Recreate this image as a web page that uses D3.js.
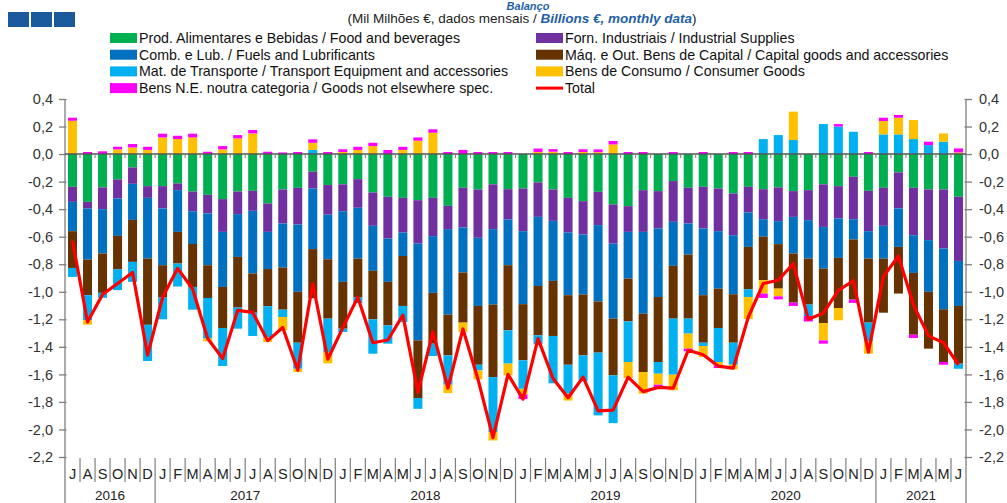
<!DOCTYPE html>
<html><head><meta charset="utf-8">
<script src="https://cdn.jsdelivr.net/npm/d3@7"></script>
<style>body{margin:0;background:#fff;} svg{display:block;font-family:"Liberation Sans",Arial,sans-serif;}</style>
</head><body><svg id="c" width="1007" height="503"></svg>
<script>
// ---- data ----
const months = ["J","A","S","O","N","D",
  "J","F","M","A","M","J","J","A","S","O","N","D",
  "J","F","M","A","M","J","J","A","S","O","N","D",
  "J","F","M","A","M","J","J","A","S","O","N","D",
  "J","F","M","A","M","J","J","A","S","O","N","D",
  "J","F","M","A","M","J"];
const years = ["2016","2017","2018","2019","2020","2021"];
const yearMonths = [6,12,12,12,12,6];
const yTicks = [0.4,0.2,0,-0.2,-0.4,-0.6,-0.8,-1.0,-1.2,-1.4,-1.6,-1.8,-2.0,-2.2];

const food = [-0.238,-0.347,-0.242,-0.184,-0.097,-0.233,-0.233,-0.213,-0.272,-0.296,-0.327,-0.272,-0.267,-0.359,-0.257,
 -0.245,-0.128,-0.225,-0.22,-0.182,-0.279,-0.31,-0.318,-0.335,-0.318,-0.376,-0.245,-0.257,-0.22,-0.255,
 -0.25,-0.206,-0.257,-0.318,-0.342,-0.274,-0.366,-0.378,-0.262,-0.269,-0.196,-0.245,-0.238,-0.25,-0.286,
 -0.238,-0.255,-0.242,-0.269,-0.262,-0.22,-0.233,-0.165,-0.267,-0.245,-0.133,-0.245,-0.257,-0.257,-0.31];
const industrial = [-0.109,-0.048,-0.158,-0.138,-0.119,-0.085,-0.162,-0.049,-0.143,-0.135,-0.238,-0.164,-0.145,-0.206,-0.247,
 -0.267,-0.122,-0.215,-0.195,-0.208,-0.242,-0.303,-0.252,-0.315,-0.278,-0.169,-0.288,-0.351,-0.325,-0.22,
 -0.31,-0.25,-0.228,-0.252,-0.242,-0.242,-0.284,-0.187,-0.303,-0.271,-0.296,-0.259,-0.302,-0.31,-0.303,
 -0.186,-0.218,-0.245,-0.187,-0.218,-0.309,-0.235,-0.308,-0.293,-0.276,-0.262,-0.344,-0.368,-0.429,-0.466];
const fuels = [-0.213,-0.371,-0.322,-0.272,-0.262,-0.441,-0.412,-0.303,-0.238,-0.376,-0.4,-0.311,-0.455,-0.27,-0.32,
 -0.488,-0.44,-0.324,-0.513,-0.369,-0.327,-0.315,-0.17,-0.703,-0.412,-0.621,-0.327,-0.495,-0.548,-0.332,
 -0.53,-0.502,-0.436,-0.455,-0.436,-0.554,-0.545,-0.339,-0.594,-0.498,-0.32,-0.226,-0.485,-0.417,-0.429,
 -0.25,-0.127,-0.167,-0.266,-0.279,-0.303,-0.286,-0.147,-0.199,-0.238,-0.279,-0.274,-0.375,-0.441,-0.327];
const capital = [-0.267,-0.259,-0.286,-0.244,-0.305,-0.481,-0.235,-0.23,-0.312,-0.238,-0.298,-0.368,-0.285,-0.27,-0.306,
 -0.37,-0.357,-0.431,-0.34,-0.283,-0.352,-0.316,-0.363,-0.419,-0.369,-0.296,-0.364,-0.427,-0.527,-0.473,
 -0.408,-0.358,-0.4,-0.505,-0.442,-0.372,-0.412,-0.311,-0.424,-0.472,-0.383,-0.465,-0.345,-0.286,-0.352,
 -0.308,-0.316,-0.323,-0.357,-0.334,-0.395,-0.364,-0.437,-0.465,-0.393,-0.339,-0.449,-0.413,-0.383,-0.419];
const transport = [-0.065,-0.182,-0.036,-0.15,-0.145,-0.263,-0.158,-0.167,-0.165,-0.295,-0.276,-0.153,-0.169,-0.228,-0.053,
 -0.189,0.03,-0.243,-0.024,-0.04,-0.25,-0.133,-0.117,-0.078,-0.09,-0.213,0,-0.041,-0.4,-0.242,
 -0.207,-0.064,-0.344,-0.21,-0.188,-0.456,-0.347,-0.295,0,-0.085,-0.407,-0.109,-0.024,-0.247,-0.16,
 -0.056,0.109,0.138,0.102,-0.083,0.218,0.2,0.162,-0.136,0.143,0.143,0.109,0.065,0.09,-0.037];
const consumer = [0.242,-0.032,0,0.034,0.048,0.03,0.121,0.109,0.121,-0.02,0.034,0.114,0.15,-0.032,-0.097,
 -0.024,0.052,-0.082,0.015,0.03,0.058,0,0.03,0.097,0.155,-0.061,-0.068,-0.065,-0.06,-0.085,
 -0.04,0.015,0.017,-0.05,0.015,0.014,0.07,-0.117,-0.157,-0.08,-0.114,-0.109,-0.08,-0.025,-0.034,
 -0.16,-0.097,-0.056,0.206,0,-0.126,-0.089,0,-0.09,0.097,0.121,0.138,0,0.06,0.012];
const notElsewhere = [0.022,0.015,0.02,0.019,0.025,0.023,0.027,0.024,0.027,0.017,0.024,0.024,0.025,0.017,0.012,
 0.015,0.025,0.015,0.02,0.023,0.024,0.03,0.023,0.024,0.025,0.015,0.03,0.015,0.015,0.015,
 -0.035,0.025,0.019,0.015,0.02,0.02,0.025,0.015,0.015,-0.02,0.015,-0.019,0.015,-0.019,0.015,
 0.015,-0.032,-0.022,-0.024,-0.04,-0.024,0.018,-0.024,0.015,0.024,0.02,-0.024,0.025,-0.02,0.029];
const total = [-0.63,-1.22,-1.02,-0.94,-0.86,-1.46,-1.04,-0.83,-0.98,-1.34,-1.485,-1.135,-1.15,-1.355,-1.26,
 -1.57,-0.94,-1.49,-1.26,-1.04,-1.37,-1.35,-1.17,-1.73,-1.29,-1.70,-1.27,-1.635,-2.06,-1.60,
 -1.78,-1.34,-1.63,-1.77,-1.62,-1.865,-1.86,-1.62,-1.725,-1.695,-1.70,-1.425,-1.457,-1.54,-1.555,
 -1.185,-0.94,-0.916,-0.795,-1.2,-1.155,-0.99,-0.92,-1.438,-0.89,-0.74,-1.095,-1.32,-1.37,-1.53];

const seriesNames = ["Prod. Alimentares e Bebidas / Food and beverages",
 "Forn. Industriais / Industrial Supplies",
 "Comb. e Lub. /  Fuels and Lubrificants",
 "Máq. e Out. Bens de Capital / Capital goods and accessories",
 "Mat. de Transporte / Transport Equipment and accessories",
 "Bens de Consumo / Consumer Goods",
 "Bens N.E. noutra categoria / Goods not elsewhere spec."];
const seriesColors = ["#00B050","#7030A0","#0070C0","#663300","#00B0F0","#FFC000","#FF00FF"];
const totalName = "Total";
const totalColor = "#FF0000";

// ---- build ----
const seriesValues = [food, industrial, fuels, capital, transport, consumer, notElsewhere];
const keys = seriesNames.map((_, i) => "s" + i);
const rows = months.map((m, i) => {
  const r = {i};
  keys.forEach((k, j) => r[k] = seriesValues[j][i]);
  return r;
});

const svg = d3.select("#c");
const L = 65, R = 966, T = 99, B = 457;
const x = d3.scaleBand().domain(d3.range(months.length)).range([L, R]).paddingInner(0.4).paddingOuter(0.2);
const y = d3.scaleLinear().domain([-2.2, 0.4]).range([B, T]);

// title & header
svg.append("text").attr("x", 528).attr("y", 9.5).attr("text-anchor", "middle")
  .attr("font-size", 11).attr("font-weight", "bold").attr("font-style", "italic").attr("fill", "#1F5FA8").text("Balanço");
[8, 31, 54].forEach(px => svg.append("rect").attr("x", px).attr("y", 12).attr("width", 21).attr("height", 15).attr("fill", "#1A5A9C"));
const sub = svg.append("text").attr("x", 522).attr("y", 23).attr("text-anchor", "middle").attr("font-size", 13.5).attr("fill", "#222");
sub.append("tspan").text("(Mil Milhões €, dados mensais / ");
sub.append("tspan").attr("font-weight", "bold").attr("font-style", "italic").attr("fill", "#1F5FA8").text("Billions €, monthly data");
sub.append("tspan").text(")");

// legend
const legendItems = seriesNames.map((n, i) => ({name: n, color: seriesColors[i], type: "rect"}))
  .concat([{name: totalName, color: totalColor, type: "line"}]);
const lg = svg.append("g");
legendItems.forEach((d, i) => {
  const col = i % 2, row = Math.floor(i / 2);
  const gx = col === 0 ? 110 : 536, gy = 38 + row * 16.7;
  if (d.type === "rect") lg.append("rect").attr("x", gx).attr("y", gy - 5).attr("width", 27).attr("height", 10).attr("fill", d.color);
  else lg.append("line").attr("x1", gx).attr("x2", gx + 27).attr("y1", gy).attr("y2", gy).attr("stroke", d.color).attr("stroke-width", 3);
  lg.append("text").attr("x", gx + 29).attr("y", gy).attr("dy", "0.35em").attr("font-size", 14.2).attr("fill", "#111").text(d.name);
});

// axes
const axisColor = "#7f7f7f";
svg.append("line").attr("x1", L).attr("x2", L).attr("y1", T).attr("y2", 503).attr("stroke", axisColor).attr("stroke-width", 1.3);
svg.append("line").attr("x1", R).attr("x2", R).attr("y1", T).attr("y2", 503).attr("stroke", axisColor).attr("stroke-width", 1.3);
const fmt = d => d3.format(".1f")(d).replace(".", ",").replace("−", "-");
const leftAx = svg.append("g").attr("transform", `translate(${L},0)`)
  .call(d3.axisLeft(y).tickValues(yTicks).tickSize(6).tickFormat(fmt));
const rightAx = svg.append("g").attr("transform", `translate(${R},0)`)
  .call(d3.axisRight(y).tickValues(yTicks).tickSize(6).tickFormat(fmt));
[leftAx, rightAx].forEach(a => {
  a.select(".domain").remove();
  a.selectAll(".tick line").attr("stroke", axisColor).attr("stroke-width", 1.3);
  a.selectAll(".tick text").attr("font-size", 14.5).attr("fill", "#333").attr("font-family", "Liberation Sans, Arial, sans-serif");
});
leftAx.selectAll(".tick line").attr("x1", 1.5);
rightAx.selectAll(".tick line").attr("x1", -1.5);
leftAx.selectAll(".tick text").attr("x", -12);
rightAx.selectAll(".tick text").attr("x", 13);

// bars
const stack = d3.stack().keys(keys).offset(d3.stackOffsetDiverging)(rows);
svg.append("g").selectAll("g").data(stack).join("g").attr("fill", (d, i) => seriesColors[i])
  .selectAll("rect").data(d => d).join("rect")
  .attr("x", d => x(d.data.i)).attr("width", x.bandwidth())
  .attr("y", d => y(Math.max(d[0], d[1]))).attr("height", d => Math.abs(y(d[0]) - y(d[1])));

// zero line and its ticks
const boundaryX = i => L + i * (R - L) / months.length;
svg.append("line").attr("x1", L).attr("x2", R).attr("y1", y(0)).attr("y2", y(0)).attr("stroke", "#555").attr("stroke-width", 1.5);
svg.append("g").selectAll("line").data(d3.range(1, months.length)).join("line")
  .attr("x1", boundaryX).attr("x2", boundaryX)
  .attr("y1", y(0)).attr("y2", y(0) + 4).attr("stroke", "#777").attr("stroke-width", 1);

// total line
svg.append("path").datum(total).attr("fill", "none").attr("stroke", totalColor).attr("stroke-width", 3.2)
  .attr("stroke-linejoin", "round")
  .attr("d", d3.line().x((d, i) => x(i) + x.bandwidth() / 2).y(d => y(d)));

// category axis
const catG = svg.append("g");
months.forEach((m, i) => {
  catG.append("text").attr("x", x(i) + x.bandwidth() / 2).attr("y", 479).attr("text-anchor", "middle")
    .attr("font-size", 14.5).attr("fill", "#222").text(m);
});
let cum = 0;
const yearStarts = yearMonths.map(n => { const s = cum; cum += n; return s; });
d3.range(1, months.length).forEach(i => {
  const isYear = yearStarts.includes(i);
  catG.append("line").attr("x1", boundaryX(i)).attr("x2", boundaryX(i)).attr("y1", 458).attr("y2", isYear ? 503 : 482)
    .attr("stroke", axisColor).attr("stroke-width", 1.2);
});
years.forEach((yr, k) => {
  const cx = (boundaryX(yearStarts[k]) + boundaryX(yearStarts[k] + yearMonths[k])) / 2;
  catG.append("text").attr("x", cx).attr("y", 500).attr("text-anchor", "middle").attr("font-size", 13.5).attr("fill", "#222").text(yr);
});
</script></body></html>
